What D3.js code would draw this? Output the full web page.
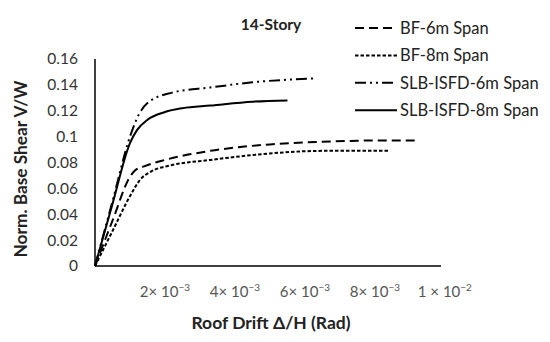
<!DOCTYPE html>
<html><head><meta charset="utf-8">
<script src="https://cdn.jsdelivr.net/npm/d3@7"></script>
<style>body{margin:0;background:#fff}svg{display:block}</style>
</head><body>
<svg id="c" width="550" height="342"></svg>
<script>
// drift in units of 1e-3 rad, normalized base shear
const seriesNames = ["BF-6m Span","BF-8m Span","SLB-ISFD-6m Span","SLB-ISFD-8m Span"];
const bf6X  = [0, 0.5, 1.0, 1.15, 1.4, 2.0, 3.3, 5.0, 6.5, 8.0, 9.2];
const bf6Y  = [0, 0.035, 0.069, 0.074, 0.077, 0.082, 0.089, 0.094, 0.096, 0.097, 0.097];
const bf8X  = [0, 0.5, 1.0, 1.3, 1.6, 2.2, 3.3, 5.0, 6.5, 8.4];
const bf8Y  = [0, 0.027, 0.054, 0.067, 0.073, 0.078, 0.082, 0.087, 0.089, 0.089];
const slb6X = [0, 0.5, 1.0, 1.25, 1.5, 2.2, 3.3, 4.5, 6.3];
const slb6Y = [0, 0.05, 0.1, 0.117, 0.126, 0.134, 0.138, 0.142, 0.145];
const slb8X = [0, 0.5, 1.0, 1.2, 1.5, 2.0, 2.5, 3.3, 4.5, 5.5];
const slb8Y = [0, 0.048, 0.095, 0.105, 0.113, 0.119, 0.122, 0.124, 0.127, 0.128];
const yTicks = [0, 0.02, 0.04, 0.06, 0.08, 0.1, 0.12, 0.14, 0.16];
const xTicks = [2, 4, 6, 8, 10];
const xTickMant = ["2", "4", "6", "8", "1"];
const xTickExp = ["−3", "−3", "−3", "−3", "−2"];

const svg = d3.select("#c");
const font = "Lato, 'Open Sans', sans-serif";
const x = d3.scaleLinear().domain([0, 9.89]).range([95, 441]);
const y = d3.scaleLinear().domain([0, 0.16]).range([266, 59]);

// axes lines
svg.append("line").attr("x1", x(0)).attr("x2", x(0)).attr("y1", y(0.16)).attr("y2", y(0))
  .attr("stroke", "#000").attr("stroke-width", 1.5);
svg.append("line").attr("x1", x(0)).attr("x2", x.range()[1]).attr("y1", y(0)).attr("y2", y(0))
  .attr("stroke", "#000").attr("stroke-width", 1.5);

// y tick labels
svg.append("g").selectAll("text").data(yTicks).join("text")
  .attr("x", 78).attr("y", d => y(d)).attr("dy", "0.35em")
  .attr("text-anchor", "end").attr("font-family", font).attr("font-size", 15.5)
  .attr("fill", "#333").text(d => d3.format("")(+d.toFixed(2)));

// x tick labels
const xt = svg.append("g").selectAll("text").data(xTicks).join("text")
  .attr("x", d => x(d)).attr("y", 297)
  .attr("text-anchor", "middle").attr("font-family", font).attr("font-size", 15)
  .attr("fill", "#555");
xt.append("tspan").text((d, i) => xTickMant[i] + (i === 4 ? " × " : "× ") + "10");
xt.append("tspan").attr("dy", -6).attr("font-size", 10).text((d, i) => xTickExp[i]);

// lines
const line = d3.line().x(d => x(d[0])).y(d => y(d[1])).curve(d3.curveMonotoneX);
const series = [
  {name: seriesNames[0], xs: bf6X, ys: bf6Y, dash: "9,5"},
  {name: seriesNames[1], xs: bf8X, ys: bf8Y, dash: "3.5,2"},
  {name: seriesNames[2], xs: slb6X, ys: slb6Y, dash: "11,4,2,4,2,4"},
  {name: seriesNames[3], xs: slb8X, ys: slb8Y, dash: null}
];
svg.append("g").selectAll("path").data(series).join("path")
  .attr("d", s => line(s.xs.map((v, i) => [v, s.ys[i]])))
  .attr("fill", "none").attr("stroke", "#000").attr("stroke-width", 2)
  .attr("stroke-dasharray", s => s.dash);

// title
svg.append("text").attr("x", 271).attr("y", 30).attr("text-anchor", "middle")
  .attr("font-family", font).attr("font-weight", "bold").attr("font-size", 15.5)
  .attr("fill", "#222").text("14-Story");

// axis titles
svg.append("text").attr("x", 271).attr("y", 329).attr("text-anchor", "middle")
  .attr("font-family", font).attr("font-weight", "bold").attr("font-size", 17.5)
  .attr("fill", "#222").text("Roof Drift Δ/H (Rad)");
svg.append("text").attr("transform", "translate(27,169) rotate(-90)").attr("text-anchor", "middle")
  .attr("font-family", font).attr("font-weight", "bold").attr("font-size", 17.3)
  .attr("fill", "#222").text("Norm. Base Shear V/W");

// legend
const lg = svg.append("g").selectAll("g").data(series).join("g")
  .attr("transform", (d, i) => `translate(355,${28 + i * 27.4})`);
lg.append("line").attr("x1", 0).attr("x2", 42).attr("y1", 0).attr("y2", 0)
  .attr("stroke", "#000").attr("stroke-width", 2).attr("stroke-dasharray", d => d.dash);
lg.append("text").attr("x", 45).attr("y", 0).attr("dy", "0.35em")
  .attr("font-family", font).attr("font-size", 16.5).attr("fill", "#222").text(d => d.name);
</script>
</body></html>
